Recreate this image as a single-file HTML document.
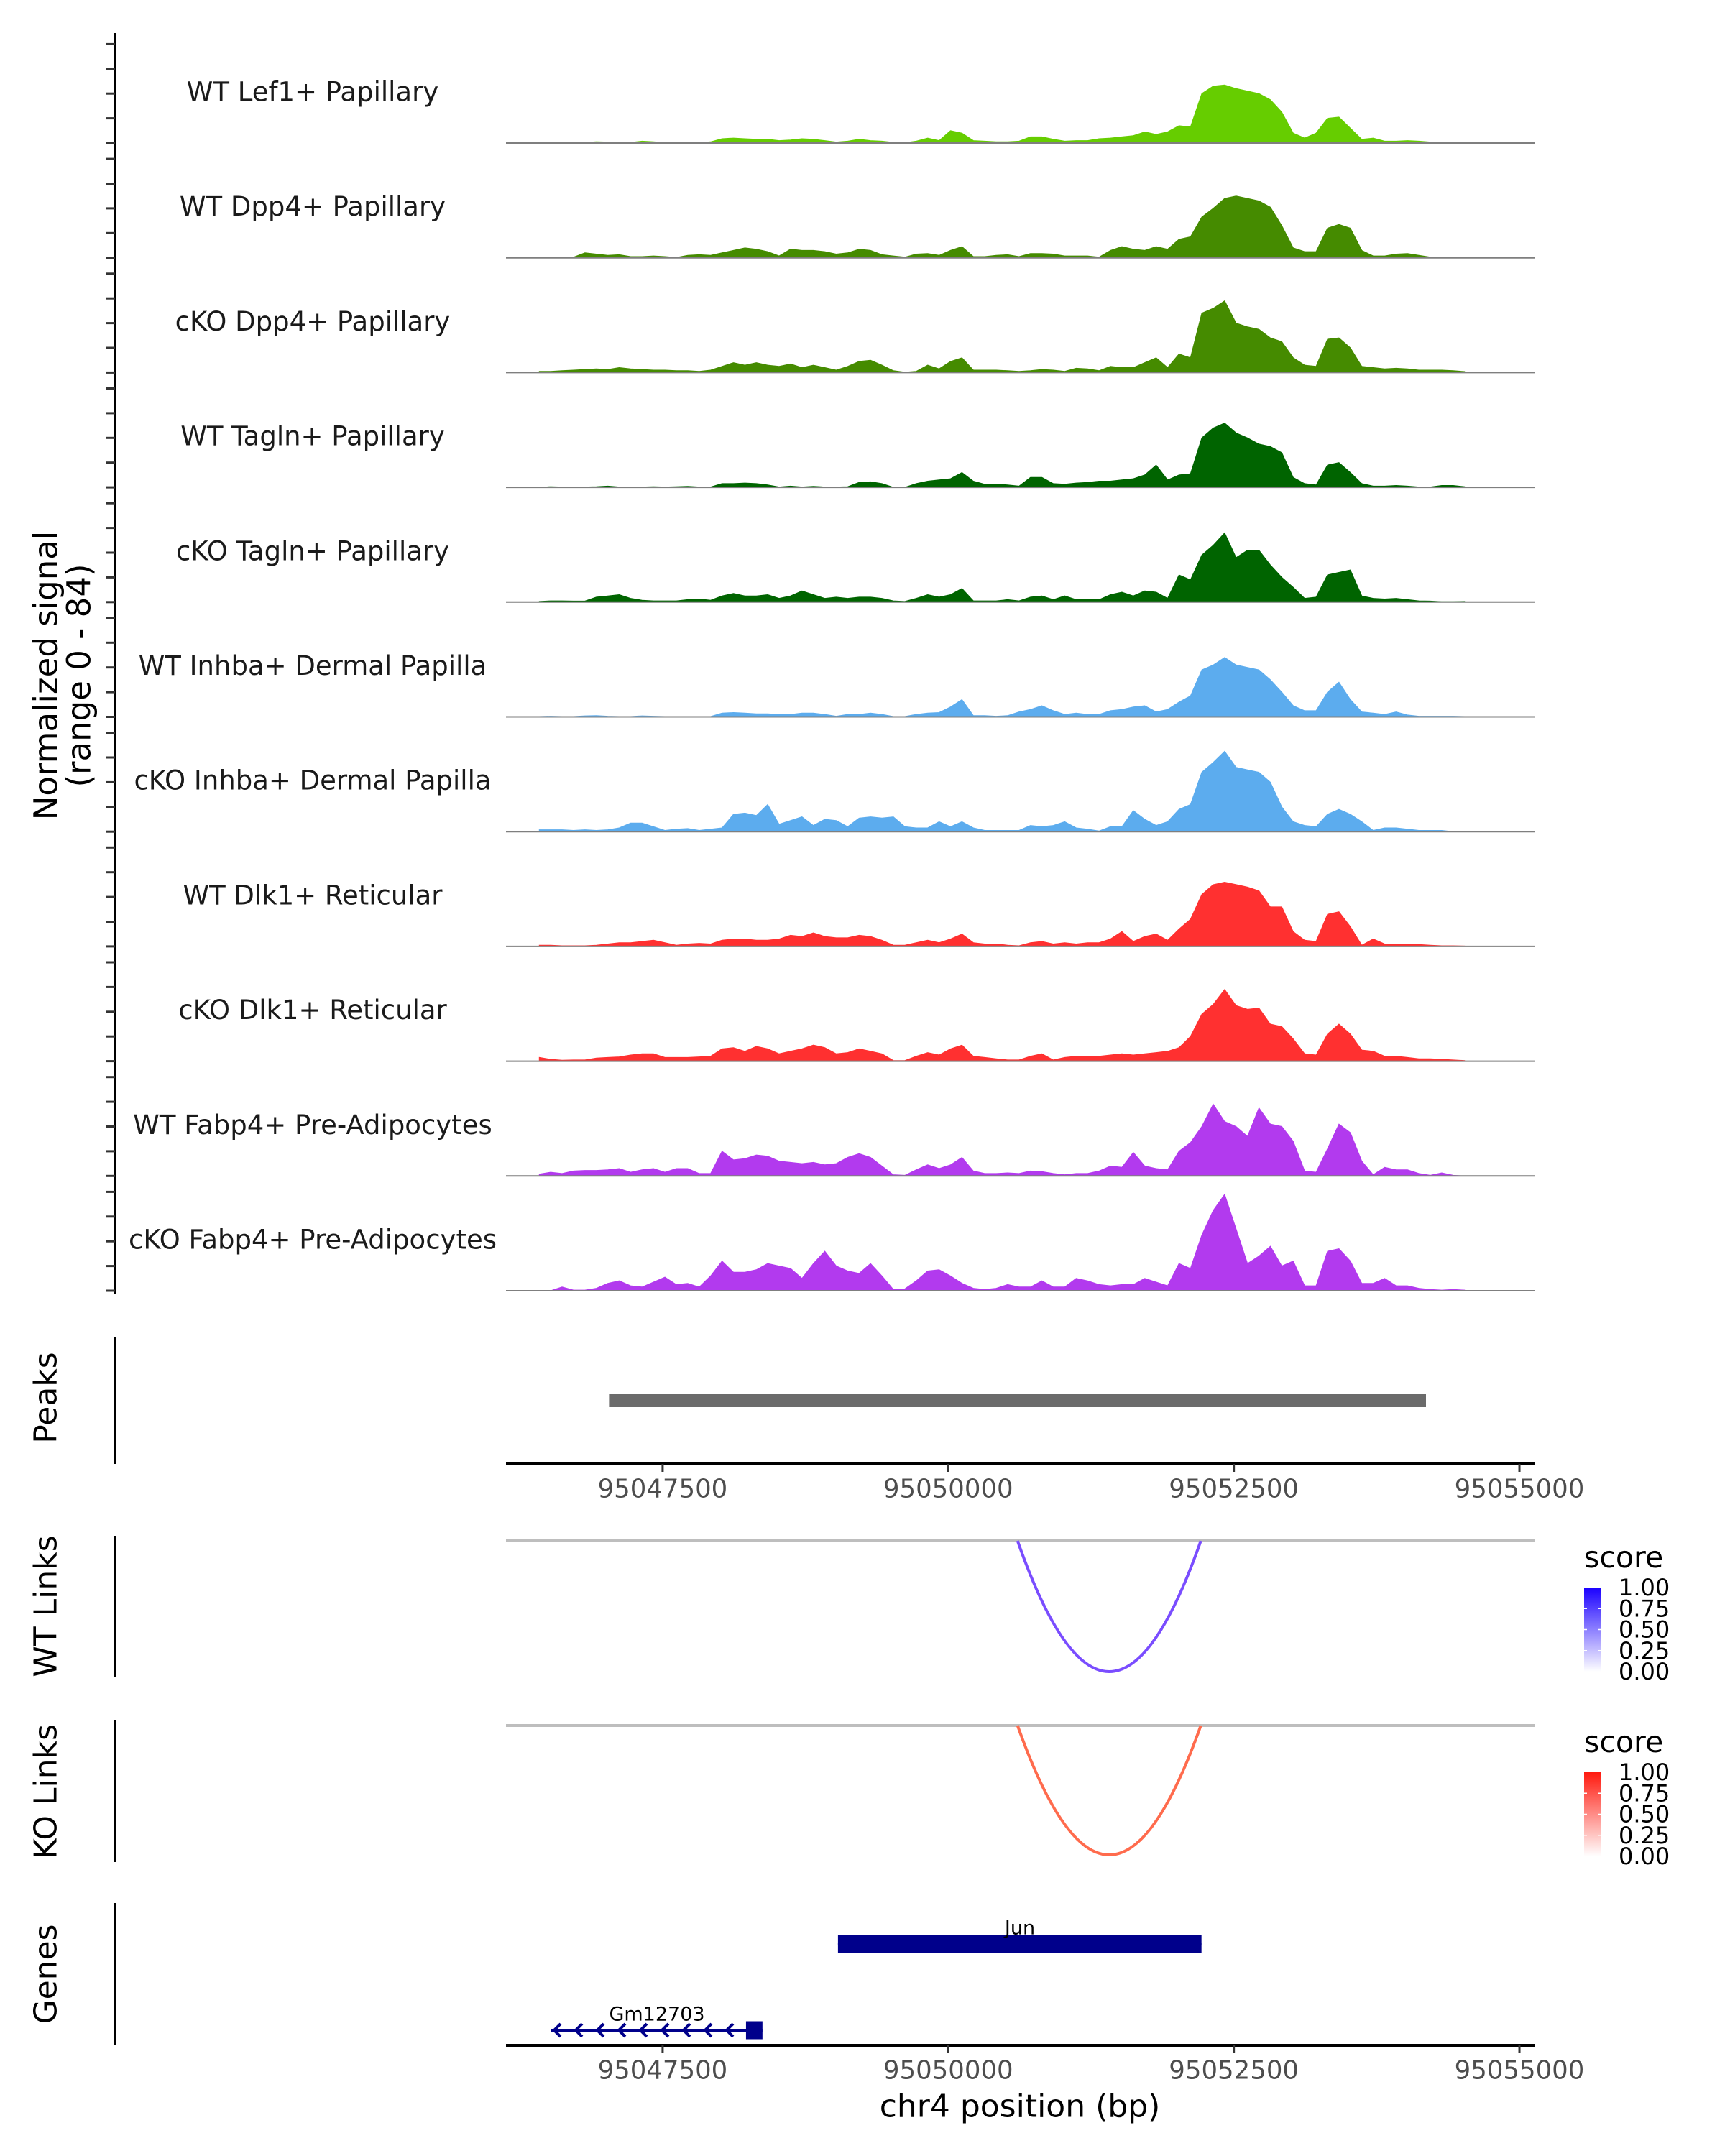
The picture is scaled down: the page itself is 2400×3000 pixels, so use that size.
<!DOCTYPE html>
<html><head><meta charset="utf-8"><title>Coverage tracks chr4</title>
<style>html,body{margin:0;padding:0;background:#fff;}svg{display:block;font-family:"DejaVu Sans","Liberation Sans",sans-serif;}</style>
</head><body>
<svg id="chart" width="2400" height="3000" viewBox="0 0 2400 3000" xmlns="http://www.w3.org/2000/svg">
<defs>
<linearGradient id="gradBlue" x1="0" y1="1" x2="0" y2="0"><stop offset="0" stop-color="#ffffff"/><stop offset="1" stop-color="#1a00ff"/></linearGradient>
<linearGradient id="gradRed" x1="0" y1="1" x2="0" y2="0"><stop offset="0" stop-color="#ffffff"/><stop offset="1" stop-color="#ff1a0f"/></linearGradient>
</defs>
<g id="tracks"></g>
<g id="lower"></g>
</svg>
<script>
const trackNames = ["WT Lef1+ Papillary","WT Dpp4+ Papillary","cKO Dpp4+ Papillary","WT Tagln+ Papillary","cKO Tagln+ Papillary","WT Inhba+ Dermal Papilla","cKO Inhba+ Dermal Papilla","WT Dlk1+ Reticular","cKO Dlk1+ Reticular","WT Fabp4+ Pre-Adipocytes","cKO Fabp4+ Pre-Adipocytes"];
const binStart = 95046420;
const binSize = 100;
const sigWtLef1 = [0.5,0.5,0.3,0.3,0.5,1,0.8,0.6,0.5,1.5,1,0.3,0.3,0.3,0.3,1,3.5,4,3.5,3,3,2,2.5,3.5,3,2,0.8,1.5,3,2,1.5,0.5,0.3,1.5,4,2,10,8,2,1.5,1,1,1.5,5,5,3,1.5,2,2,3.5,4,5,6,9,7,9,14,13,40,46,47,44,42,40,35,25,8,4,8,20,21,12,3,4,1.5,1.5,2,1.5,0.8,0.5,0.5,0.3];
const sigWtDpp4 = [0.5,0.5,0.3,0.5,4,3,2,2.5,1,1,1.5,1,0.3,2,2.5,2,4,6,8,7,5,1.5,7,6,6,5,3,4,7,6,2.5,1.5,0.5,3,3.5,2,6,9,1,1,2,2.5,1,3.5,3.5,3,1.5,1.5,1.5,0.5,6,9,7,6,9,7,15,17,33,40,48,50,48,46,41,26,8,5,5,24,27,24,6,1.5,1.5,3,3.5,2,0.5,0.5,0.3,0];
const sigKoDpp4 = [1,1,1.5,2,2.5,3,2.5,4,3,2.5,2,2,1.5,1.5,1,2,5,8,6,8,6,5,7,4,6,4,2,5,9,10,6,1.5,0.3,1,6,3,9,12,2,2,2,1.5,1,1.5,2.5,2,1,3.5,3,1.5,5,4,4,8,12,4,15,12,48,52,58,40,37,35,28,25,12,6,5,27,28,20,5,4,3,3.5,3,2,2,2,1.5,0.8];
const sigWtTagln = [0,0.5,0.3,0.3,0.3,0.5,1,0.3,0.3,0.3,0.5,0.3,0.5,0.8,0.3,0.3,3,3,3.5,3,2,0.3,1,0.3,0.8,0.3,0.3,0.5,4,4.5,3,0,0,3,5,6,7,12,5,2.5,2.5,2,1,8,8,3,2.5,3.5,4,5,5,6,7,10,18,6,10,11,40,48,52,44,40,35,33,28,8,3,2,18,20,12,3,1,1,1.5,1,0.3,0.3,1.5,1.5,0.5];
const sigKoTagln = [0.5,1,1,0.8,0.8,4,5,6,3,1.5,1,1,1,2,2.5,1.5,5,7,5,5,6,3,5,9,6,3,4,3,4,4,3,1,0.5,3,6,4,6,11,1,1,1,2,1,4,5,2,5,2,2,2,6,8,5,9,8,3,22,18,38,46,56,36,42,42,30,20,12,3,4,22,24,26,5,3,2.5,3,2,1,0.8,0.3,0.3,0.5];
const sigWtInhba = [0.3,0.5,0.3,0.3,0.8,1,0.5,0.3,0.3,0.8,0.5,0.3,0.3,0.3,0.3,0.3,3,3.5,3,2.5,2.5,2,2,3,3,2,0.5,2,2,3,2,0.3,0.3,2,3,3.5,8,14,1,1,0.5,1,4,6,9,5,2,3,2,2,5,6,8,9,4,6,12,17,38,42,48,42,40,38,30,20,9,5,5,20,28,14,4,3,2,4,1.5,0.5,0.5,0.5,0.5,0.3];
const sigKoInhba = [1.5,1.5,1.5,1,1.5,1,1.5,3,7,7,4,1,2,2.5,1,2,3,14,15,13,22,6,9,12,5,10,9,4,11,12,11,12,4,3,3,8,4,8,3,1,1,1,1,5,4,5,8,3,2,0.5,4,4,17,10,5,8,18,22,48,56,65,52,50,48,40,20,8,5,4,14,18,14,8,1,3,3,2,1,1,1,0,0];
const sigWtDlk1 = [1,1,0.5,0.5,0.5,1,2,3,3,4,5,3,1,2,2.5,2,5,6,6,5,5,6,9,8,11,8,7,7,9,8,5,1,1,3,5,3,6,10,3,2,2,1,0.5,3,4,2,3,2,3,3,6,12,4,8,10,5,14,22,42,50,52,50,48,45,32,32,12,5,4,26,28,16,1,6,2,2,2,1.5,1,0.5,0.5,0.3];
const sigKoDlk1 = [3,1.5,0.8,1,1,2.5,3,3.5,5,6,6,3,3,3,3.5,4,10,11,8,12,10,6,8,10,13,11,6,7,10,8,6,0.5,0.5,4,7,5,10,13,4,3,2,1,1,4,6,1,3,4,4,4,5,6,5,6,7,8,11,20,38,46,58,45,42,43,30,28,18,6,5,22,30,22,9,8,4,4,3,2,2,1.5,1,0.5];
const sigWtFabp4 = [1.5,3,2,4,4.5,4.5,5,6,3,5,6,3,6,6,2,2,20,13,14,17,16,12,11,10,11,9,10,15,18,15,8,1,0.5,5,9,6,9,15,4,2,2,2.5,2,4,3.5,2,1,2,2,4,8,7,19,8,6,5,20,27,40,58,44,40,32,55,42,40,28,4,3,22,42,35,12,1,7,5,5,2,0.5,2.5,0.5,0];
const sigKoFabp4 = [0,0,3,0.5,0.5,2,6,8,4,3,7,11,5,6,3,12,24,15,15,17,22,20,18,10,22,32,20,16,14,22,12,1,1.5,8,16,17,12,6,2,1,2,5,3,3,8,3,3,10,8,5,4,5,5,10,7,4,22,18,45,65,78,50,22,28,36,20,24,4,4,32,34,24,6,6,10,4,4,2,1,0.5,1,0.5];
const trackSignals = [sigWtLef1,sigWtDpp4,sigKoDpp4,sigWtTagln,sigKoTagln,sigWtInhba,sigKoInhba,sigWtDlk1,sigKoDlk1,sigWtFabp4,sigKoFabp4];
const axisTicks = [95047500,95050000,95052500,95055000];
const peakStarts = [95047031];
const peakEnds = [95054182];
const linkStarts = [95050607];
const linkEnds = [95052211];
const wtLinkScores = [0.68];
const koLinkScores = [0.68];
const legendTicks = ["0.00","0.25","0.50","0.75","1.00"];
const geneNames = ["Jun","Gm12703"];
const geneStarts = [95049035,95046525];
const geneEnds = [95052217,95048374];
const geneStrands = ["+","-"];
const exonStarts = [[95049035],[95048230]];
const exonEnds = [[95052217],[95048374]];

const NS = "http://www.w3.org/2000/svg";
const trackColors = ["#66cd00","#458b00","#458b00","#006400","#006400","#5cacee","#5cacee","#ff3030","#ff3030","#b23aee","#b23aee"];
const X0 = 704, X1 = 2135, D0 = 95046129, D1 = 95055132;
function x(bp){ return X0 + (bp - D0) * (X1 - X0) / (D1 - D0); }
const yUnit = 1.72;
function baseY(i){ return 199 + 159.7 * i; }
function el(tag, attrs, parent, text){
  const e = document.createElementNS(NS, tag);
  for (const k in attrs) e.setAttribute(k, attrs[k]);
  if (text !== undefined) e.textContent = text;
  parent.appendChild(e);
  return e;
}
const gT = document.getElementById('tracks');
const gL = document.getElementById('lower');

let ax = el('line', {x1:160, y1:46, x2:160, y2:baseY(10)+5, stroke:'#000', 'stroke-width':4}, gT);


let yt = el('text', {x:0, y:0, 'font-size':45, 'text-anchor':'middle', transform:'translate(64,940) rotate(-90)', 'dominant-baseline':'central', fill:'#000'}, gT, 'Normalized signal');


let yt2 = el('text', {x:0, y:0, 'font-size':45, 'text-anchor':'middle', transform:'translate(110,940) rotate(-90)', 'dominant-baseline':'central', fill:'#000'}, gT, '(range 0 - 84)');



trackNames.forEach((name, ti) => {
  const b = baseY(ti);
  const vals = trackSignals[ti];
  const g = el('g', {}, gT);
  
  
  for (let k = 0; k < 5; k++) {
    const t = el('line', {x1:148, x2:160, y1:b - k*20*yUnit, y2:b - k*20*yUnit, stroke:'#333', 'stroke-width':3}, g);
    
    
  }
  const lab = el('text', {x:435, y:b - 71, 'font-size':37, 'text-anchor':'middle', 'dominant-baseline':'central', fill:'#1a1a1a'}, g, name);
  
  
  let d = 'M' + x(binStart).toFixed(1) + ',' + b;
  vals.forEach((v, i) => { d += ' L' + x(binStart + i*binSize).toFixed(1) + ',' + (b - v*yUnit).toFixed(1); });
  d += ' L' + x(binStart + (vals.length-1)*binSize).toFixed(1) + ',' + b + ' Z';
  const area = el('path', {d:d, fill:trackColors[ti], stroke:trackColors[ti], 'stroke-width':1}, g);
  
  
  const bl = el('line', {x1:X0, x2:X1, y1:b, y2:b, stroke:'#7f7f7f', 'stroke-width':2}, g);
  
  
});

function panelAxis(y1, y2, title, ty){
  const l = el('line', {x1:160, x2:160, y1:y1, y2:y2, stroke:'#000', 'stroke-width':4}, gL);
  
  
  const t = el('text', {x:0, y:0, 'font-size':44, 'text-anchor':'middle', 'dominant-baseline':'central', transform:'translate(64,' + ty + ') rotate(-90)', fill:'#000'}, gL, title);
  
  
}
function xAxis(y, nm){
  const l = el('line', {x1:X0, x2:X1, y1:y, y2:y, stroke:'#000', 'stroke-width':4}, gL);
  
  
  axisTicks.forEach(t => {
    const tk = el('line', {x1:x(t), x2:x(t), y1:y, y2:y+11, stroke:'#333', 'stroke-width':3}, gL);
    
    
    const tl = el('text', {x:x(t), y:y + 35, 'font-size':35.5, 'text-anchor':'middle', 'dominant-baseline':'central', fill:'#4d4d4d'}, gL, String(t));
    
    
  });
}
panelAxis(1861, 2037, 'Peaks', 1945);
panelAxis(2137, 2334, 'WT Links', 2235);
panelAxis(2393, 2591, 'KO Links', 2493);
panelAxis(2648, 2846, 'Genes', 2747);

peakStarts.forEach((s, i) => {
  const r = el('rect', {x:x(s), y:1940, width:x(peakEnds[i]) - x(s), height:18, fill:'#6b6b6b'}, gL);
  
  
});
xAxis(2037, 'peaks-x-axis');

function linkPanel(baseLine, depth, scores, color, grad, legY, nm){
  const gl = el('line', {x1:X0, x2:X1, y1:baseLine, y2:baseLine, stroke:'#bebebe', 'stroke-width':4}, gL);
  
  
  linkStarts.forEach((s, i) => {
    const xa = x(s), xb = x(linkEnds[i]);
    const p = el('path', {d:'M' + xa + ',' + baseLine + ' Q' + ((xa+xb)/2) + ',' + (baseLine + 2*depth) + ' ' + xb + ',' + baseLine, fill:'none', stroke:color, 'stroke-width':4, opacity: Math.min(1, 0.4 + scores[i])}, gL);
    
    
  });
  const lt = el('text', {x:2204, y:legY - 28, 'font-size':41, fill:'#000'}, gL, 'score');
  
  
  const top = legY, bot = legY + 117;
  const cb = el('rect', {x:2204, y:top, width:23, height:bot - top, fill:'url(#' + grad + ')'}, gL);
  
  
  legendTicks.forEach((t, k) => {
    const yy = bot - k * (bot - top) / (legendTicks.length - 1);
    if (k > 0 && k < legendTicks.length - 1) {
      el('line', {x1:2204, x2:2208, y1:yy, y2:yy, stroke:'#fff', 'stroke-width':1.5}, gL);
      el('line', {x1:2223, x2:2227, y1:yy, y2:yy, stroke:'#fff', 'stroke-width':1.5}, gL);
    }
    const tl = el('text', {x:2252, y:yy, 'font-size':32, 'dominant-baseline':'central', fill:'#000'}, gL, t);
    
    
  });
}
linkPanel(2144, 182, wtLinkScores, '#7a4dff', 'gradBlue', 2209, 'wt-links');
linkPanel(2401, 180, koLinkScores, '#ff6b4d', 'gradRed', 2466, 'ko-links');

const geneRows = [2705, 2825];
geneNames.forEach((gname, gi) => {
  const yy = geneRows[gi];
  const g = el('g', {}, gL);
  
  
  const xa = x(geneStarts[gi]), xb = x(geneEnds[gi]);
  el('line', {x1:xa, x2:xb, y1:yy, y2:yy, stroke:'#00008b', 'stroke-width':4}, g);
  if (geneStrands[gi] === '-') {
    for (let xx = xa + 4; xx < xb - 20; xx += 30) {
      el('path', {d:'M' + (xx+9) + ',' + (yy-9) + ' L' + xx + ',' + yy + ' L' + (xx+9) + ',' + (yy+9), fill:'none', stroke:'#00008b', 'stroke-width':4}, g);
    }
  }
  exonStarts[gi].forEach((es, k) => {
    const h = gi === 0 ? 26 : 25;
    el('rect', {x:x(es), y:yy - h/2, width:x(exonEnds[gi][k]) - x(es), height:h, fill:'#00008b'}, g);
  });
  const lbl = el('text', {x:(gi === 0 ? 1419 : 914), y:yy - 22, 'font-size':27, 'text-anchor':'middle', 'dominant-baseline':'central', fill:'#000'}, g, gname);
  
  
});
xAxis(2846, 'genes-x-axis');
const xt = el('text', {x:1419, y:2931, 'font-size':44, 'text-anchor':'middle', 'dominant-baseline':'central', fill:'#000'}, gL, 'chr4 position (bp)');


</script>
</body></html>
